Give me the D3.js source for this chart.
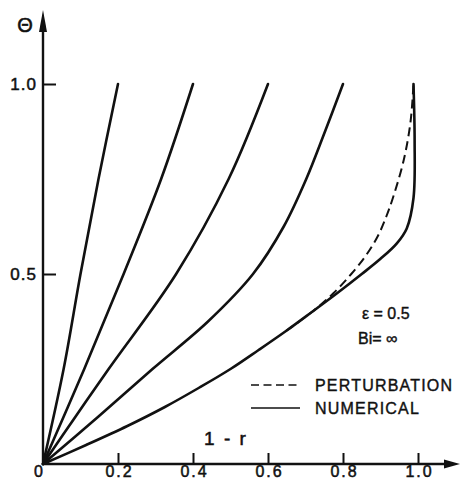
<!DOCTYPE html>
<html>
<head>
<meta charset="utf-8">
<script src="https://cdn.jsdelivr.net/npm/d3@7"></script>
<style>
  body { margin: 0; background: #fff; }
  svg text { font-family: "Liberation Sans", Arial, sans-serif; fill: #111; }
</style>
</head>
<body>
<div id="chart"></div>
<script>
// Values: [1 - r, theta]
const curveA = [[0, 0], [0.055, 0.25], [0.100, 0.5], [0.148, 0.75], [0.2, 1.0]];
const curveB = [[0, 0], [0.110, 0.25], [0.215, 0.5], [0.315, 0.75], [0.4, 1.0]];
const curveC = [[0, 0], [0.087, 0.125], [0.175, 0.25], [0.355, 0.5], [0.495, 0.75], [0.6, 1.0]];
const curveD = [[0, 0], [0.148, 0.125], [0.292, 0.25], [0.440, 0.375], [0.560, 0.5], [0.642, 0.625], [0.702, 0.75], [0.752, 0.875], [0.8, 1.0]];
const numerical = [[0, 0], [0.115, 0.05], [0.225, 0.1], [0.325, 0.15], [0.415, 0.2], [0.500, 0.25], [0.575, 0.3], [0.648, 0.35], [0.717, 0.4], [0.785, 0.45], [0.850, 0.5], [0.900, 0.54], [0.943, 0.58], [0.970, 0.62], [0.988, 0.7], [0.991, 0.85], [0.988, 1.0]];
const perturbation = [[0.648, 0.35], [0.717, 0.4], [0.775, 0.45], [0.822, 0.5], [0.862, 0.55], [0.893, 0.6], [0.915, 0.65], [0.933, 0.7], [0.962, 0.8], [0.980, 0.9], [0.988, 1.0]];

const xTicks = [0, 0.2, 0.4, 0.6, 0.8, 1.0];
const yTicks = [0.5, 1.0];
const legendLabels = ["PERTURBATION", "NUMERICAL"];

const W = 461, H = 481;

const svg = d3.select("#chart")
    .append("svg")
    .attr("width", W)
    .attr("height", H);

const x = d3.scaleLinear().domain([0, 1]).range([43, 418]);
const y = d3.scaleLinear().domain([0, 1]).range([464, 84]);

const line = d3.line()
    .x(d => x(d[0]))
    .y(d => y(d[1]))
    .curve(d3.curveCatmullRom.alpha(0.5));

// axes lines with arrows
svg.append("line")
    .attr("x1", x(0)).attr("y1", y(0))
    .attr("x2", x(0)).attr("y2", 28)
    .attr("stroke", "#111").attr("stroke-width", 2.4);
svg.append("path")
    .attr("d", `M${x(0)},10 L${x(0) - 4},32 L${x(0) + 4},32 Z`)
    .attr("fill", "#111");

svg.append("line")
    .attr("x1", x(0)).attr("y1", y(0))
    .attr("x2", 447).attr("y2", y(0))
    .attr("stroke", "#111").attr("stroke-width", 2.4);
svg.append("path")
    .attr("d", `M460,${y(0)} L444,${y(0) - 4.5} L444,${y(0) + 4.5} Z`)
    .attr("fill", "#111");

// x axis ticks
const xAxis = d3.axisBottom(x)
    .tickValues(xTicks)
    .tickSize(-11)
    .tickFormat(d => d === 0 ? "0" : d3.format(".1f")(d));

const gx = svg.append("g")
    .attr("transform", `translate(0,${y(0)})`)
    .call(xAxis);
gx.select(".domain").remove();
gx.selectAll(".tick line").attr("stroke", "#111").attr("stroke-width", 2);
gx.selectAll(".tick").filter(d => d === 0).select("line").remove();
gx.selectAll(".tick text")
    .attr("font-size", 16)
    .attr("letter-spacing", 2)
    .attr("stroke", "#111").attr("stroke-width", 0.5)
    .attr("y", 13)
    .attr("dy", 0)
    .attr("dx", d => d === 0 ? -4 : 1);

// y axis ticks
const yAxis = d3.axisLeft(y)
    .tickValues(yTicks)
    .tickSize(-13)
    .tickPadding(6)
    .tickFormat(d3.format(".1f"));

const gy = svg.append("g")
    .attr("transform", `translate(${x(0)},0)`)
    .call(yAxis);
gy.select(".domain").remove();
gy.selectAll(".tick line").attr("stroke", "#111").attr("stroke-width", 2);
gy.selectAll(".tick text")
    .attr("font-size", 17)
    .attr("letter-spacing", 1)
    .attr("stroke", "#111").attr("stroke-width", 0.5);

// curves
[curveA, curveB, curveC, curveD, numerical].forEach(c => {
    svg.append("path")
        .datum(c)
        .attr("d", line)
        .attr("fill", "none")
        .attr("stroke", "#111")
        .attr("stroke-width", 2.6)
        .attr("stroke-linecap", "round");
});

svg.append("path")
    .datum(perturbation)
    .attr("d", line)
    .attr("fill", "none")
    .attr("stroke", "#111")
    .attr("stroke-width", 2)
    .attr("stroke-dasharray", "9,5");

// axis labels
svg.append("text")
    .attr("x", 25).attr("y", 32)
    .attr("text-anchor", "middle")
    .attr("font-size", 20)
    .attr("stroke", "#111").attr("stroke-width", 0.6)
    .text("Θ");

svg.append("text")
    .attr("x", 226).attr("y", 445)
    .attr("text-anchor", "middle")
    .attr("font-size", 19)
    .attr("letter-spacing", 2)
    .attr("stroke", "#111").attr("stroke-width", 0.5)
    .text("1 - r");

// parameters
svg.append("text")
    .attr("x", 362).attr("y", 319)
    .attr("font-size", 16)
    .attr("stroke", "#111").attr("stroke-width", 0.4)
    .text("ε = 0.5");
svg.append("text")
    .attr("x", 358).attr("y", 344)
    .attr("font-size", 16)
    .attr("stroke", "#111").attr("stroke-width", 0.4)
    .text("Bi= ∞");

// legend
const legend = svg.append("g");
legendLabels.forEach((lab, i) => {
    const ly = 385 + i * 23;
    legend.append("line")
        .attr("x1", 251).attr("x2", 300)
        .attr("y1", ly).attr("y2", ly)
        .attr("stroke", "#111")
        .attr("stroke-width", 1.6)
        .attr("stroke-dasharray", i === 0 ? "8,4.5" : null);
    legend.append("text")
        .attr("x", 315).attr("y", ly + 6)
        .attr("font-size", 16)
        .attr("letter-spacing", 1.2)
        .attr("stroke", "#111").attr("stroke-width", 0.4)
        .text(lab);
});
</script>
</body>
</html>
